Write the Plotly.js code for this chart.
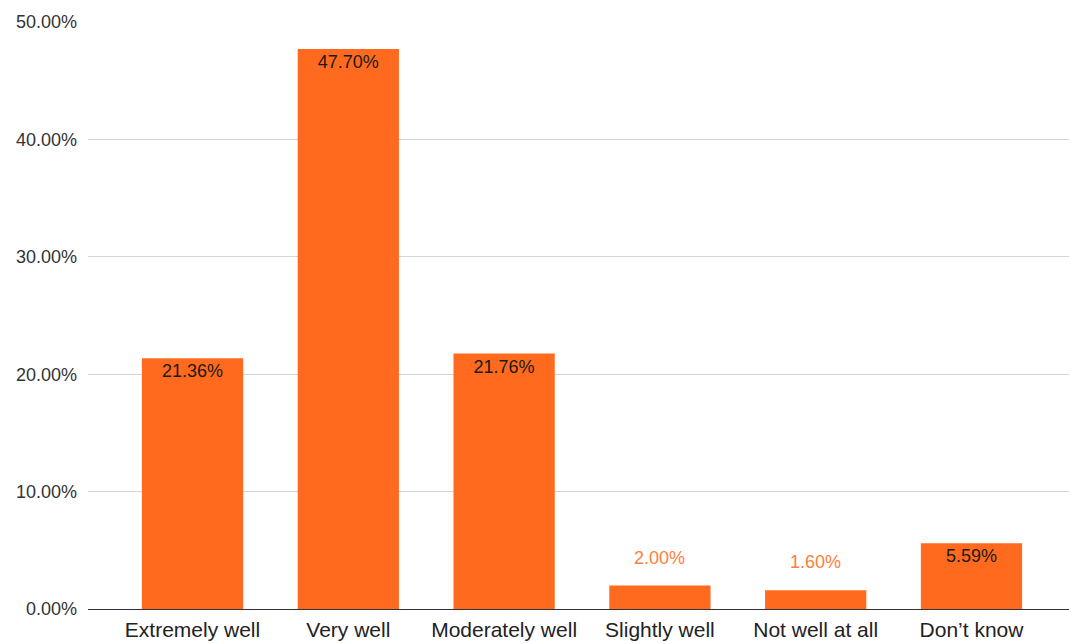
<!DOCTYPE html>
<html>
<head>
<meta charset="utf-8">
<script src="https://cdn.plot.ly/plotly-3.0.1.min.js"></script>
<style>
  html, body { margin: 0; padding: 0; background: #fff; }
  #chart { width: 1069px; height: 644px; }
</style>
</head>
<body>
<div id="chart"></div>
<script>
const categories = ["Extremely well", "Very well", "Moderately well", "Slightly well", "Not well at all", "Don\u2019t know"];
const values = [0.2136, 0.4770, 0.2176, 0.0200, 0.0160, 0.0559];
const labels = ["21.36%", "47.70%", "21.76%", "2.00%", "1.60%", "5.59%"];

const orange = "#ff6a1f";
const outsideThreshold = 0.03;
const fontFam = "Liberation Sans, Arial, sans-serif";

const insideText = values.map((v, i) => v >= outsideThreshold ? labels[i] : "");
const textPos = values.map(v => v >= outsideThreshold ? "inside" : "none");

const annotations = values.map((v, i) => v < outsideThreshold ? {
  x: categories[i], y: v, xref: "x", yref: "y",
  text: labels[i], showarrow: false, yanchor: "bottom", yshift: 16,
  font: { family: fontFam, size: 18, color: "#ff7d3a" }
} : null).filter(a => a);

const trace = {
  type: "bar",
  x: categories,
  y: values,
  marker: { color: orange },
  text: insideText,
  textposition: textPos,
  insidetextanchor: "end",
  insidetextfont: { family: fontFam, size: 18, color: "#1a1a1a" },
  textangle: 0,
  cliponaxis: false,
  hoverinfo: "x+y"
};

const layout = {
  width: 1069, height: 644,
  margin: { l: 88, r: 0, t: 22, b: 35 },
  paper_bgcolor: "#ffffff", plot_bgcolor: "#ffffff",
  showlegend: false,
  bargap: 0.35,
  font: { family: fontFam, color: "#333" },
  xaxis: {
    type: "category",
    range: [-0.671, 5.626],
    showgrid: false,
    showline: false,
    zeroline: false,
    ticks: "",
    tickfont: { size: 21, color: "#222" },
    ticklabelstandoff: 6
  },
  yaxis: {
    range: [0, 0.5],
    tickvals: [0, 0.1, 0.2, 0.3, 0.4, 0.5],
    tickformat: ".2%",
    showgrid: true,
    gridcolor: "#d4d4d4",
    gridwidth: 1,
    zeroline: true,
    zerolinecolor: "#333333",
    zerolinewidth: 1,
    showline: false,
    ticks: "",
    tickfont: { size: 18, color: "#333" },
    ticklabelstandoff: 10
  },
  annotations: annotations
};

Plotly.newPlot("chart", [trace], layout, { displayModeBar: false, staticPlot: true });
</script>
</body>
</html>
